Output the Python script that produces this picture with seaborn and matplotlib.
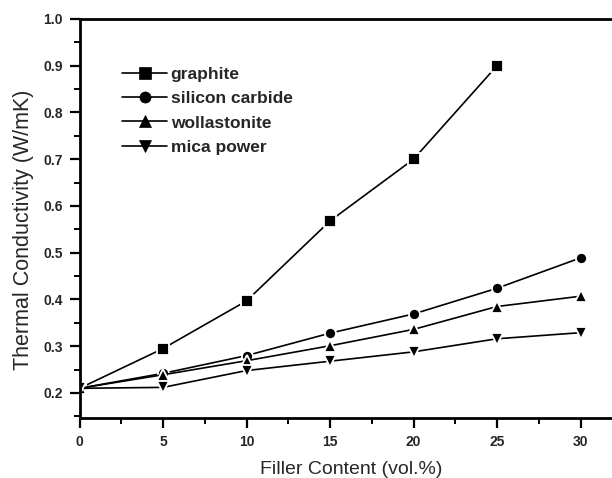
import numpy as np
import pandas as pd
import matplotlib
matplotlib.use("Agg")
import matplotlib.pyplot as plt
import seaborn as sns
from matplotlib.ticker import MultipleLocator, FixedLocator

filler = [0, 5, 10, 15, 20, 25, 30]
graphite = [0.21, 0.295, 0.397, 0.568, 0.70, 0.90, None]
silicon_carbide = [0.21, 0.242, 0.280, 0.328, 0.369, 0.424, 0.489]
wollastonite = [0.21, 0.239, 0.269, 0.301, 0.336, 0.385, 0.407]
mica_power = [0.21, 0.212, 0.248, 0.268, 0.288, 0.316, 0.329]
series_names = ["graphite", "silicon carbide", "wollastonite", "mica power"]
y_ticks = [0.2, 0.3, 0.4, 0.5, 0.6, 0.7, 0.8, 0.9, 1.0]
x_ticks = [0, 5, 10, 15, 20, 25, 30]

rows = []
for name, vals in zip(series_names, [graphite, silicon_carbide, wollastonite, mica_power]):
    for x, v in zip(filler, vals):
        if v is not None:
            rows.append({"Filler": x, "TC": v, "Series": name})
df = pd.DataFrame(rows)

sns.set_style("ticks")
plt.rcParams["font.family"] = ["Liberation Sans", "DejaVu Sans"]

W, H = 612, 478
px_per_unit = 16.7
fig = plt.figure(figsize=(6.12, 4.78), dpi=100)
ax_w = 33 * px_per_unit
ax = fig.add_axes([79.5 / W, 1 - 418 / H, ax_w / W, (418 - 19) / H])

markers = {"graphite": "s", "silicon carbide": "o", "wollastonite": "^", "mica power": "v"}
sns.lineplot(data=df, x="Filler", y="TC", hue="Series", style="Series",
             markers=markers, dashes=False, palette=["black"] * 4,
             hue_order=series_names, style_order=series_names,
             markersize=8, markeredgecolor="white", markeredgewidth=1.3,
             linewidth=1.2, ax=ax, legend=True)

ax.set_xlim(0, 33)
ax.set_ylim(0.1465, 1.0)
ax.xaxis.set_major_locator(FixedLocator(x_ticks))
ax.xaxis.set_minor_locator(MultipleLocator(2.5))
ax.yaxis.set_major_locator(FixedLocator(y_ticks))
ax.yaxis.set_minor_locator(MultipleLocator(0.05))
ax.set_xticklabels([str(t) for t in x_ticks], fontweight="bold", fontsize=10)
ax.set_yticklabels([f"{t:.1f}" for t in y_ticks], fontweight="bold", fontsize=10)
ax.tick_params(which="major", direction="out", length=7, width=1.6, color="black", pad=5)
ax.tick_params(which="minor", direction="out", length=4, width=1.4, color="black")
for sp in ax.spines.values():
    sp.set_linewidth(2.0)
    sp.set_color("black")

ax.set_xlabel("Filler Content (vol.%)", fontsize=14)
ax.set_ylabel("Thermal Conductivity (W/mK)", fontsize=15.5)
ax.xaxis.set_label_coords((351 - 79.5) / ax_w, (418 - 461) / 399)
ax.yaxis.set_label_coords((34 - 79.5) / ax_w, (418 - 230) / 399)

handles, labels = ax.get_legend_handles_labels()
for h in handles:
    h.set_markeredgecolor("black")
    h.set_markeredgewidth(0.5)
    h.set_markersize(8)
leg = ax.legend(handles, labels, loc="upper left",
                bbox_to_anchor=((122 - 79.5) / ax_w, (418 - 67) / 399),
                frameon=False, prop={"weight": "bold", "size": 12.5},
                handlelength=2.6, handletextpad=0.2, labelspacing=0.52,
                borderpad=0, borderaxespad=0)

fig.savefig("out.png", dpi=100)
